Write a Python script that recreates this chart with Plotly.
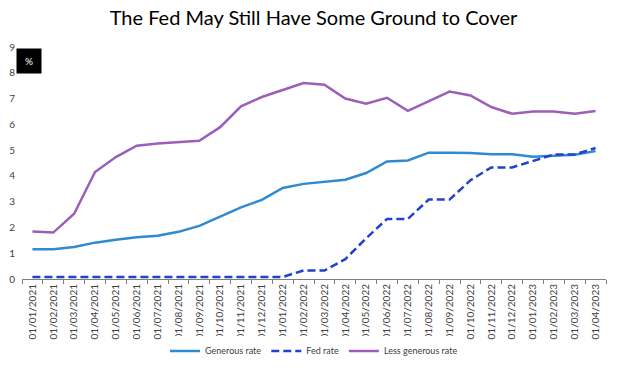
import plotly.graph_objects as go

dates = ["01/01/2021","01/02/2021","01/03/2021","01/04/2021","01/05/2021","01/06/2021",
         "01/07/2021","01/08/2021","01/09/2021","01/10/2021","01/11/2021","01/12/2021",
         "01/01/2022","01/02/2022","01/03/2022","01/04/2022","01/05/2022","01/06/2022",
         "01/07/2022","01/08/2022","01/09/2022","01/10/2022","01/11/2022","01/12/2022",
         "01/01/2023","01/02/2023","01/03/2023","01/04/2023"]

generous = [1.15,1.15,1.24,1.41,1.52,1.62,1.68,1.83,2.06,2.43,2.78,3.07,3.53,3.69,3.77,3.85,
            4.11,4.56,4.6,4.9,4.9,4.89,4.84,4.84,4.74,4.77,4.82,4.96]
fed = [0.08,0.08,0.08,0.08,0.08,0.08,0.08,0.08,0.08,0.08,0.08,0.08,0.08,0.33,0.33,0.77,
       1.58,2.33,2.33,3.08,3.08,3.83,4.33,4.33,4.57,4.83,4.83,5.08]
less_generous = [1.84,1.8,2.53,4.15,4.73,5.17,5.26,5.3,5.36,5.89,6.7,7.06,7.32,7.6,7.54,7.0,
                 6.8,7.03,6.52,6.89,7.27,7.12,6.67,6.41,6.5,6.5,6.41,6.52]

FONT = "Lato"
fig = go.Figure()
fig.add_trace(go.Scatter(x=dates, y=generous, mode="lines", name="Generous rate",
                         line=dict(color="#2F8AD0", width=2.5)))
fig.add_trace(go.Scatter(x=dates, y=fed, mode="lines", name="Fed rate",
                         line=dict(color="#2142CC", width=2.5, dash="8px,4px")))
fig.add_trace(go.Scatter(x=dates, y=less_generous, mode="lines", name="Less generous rate",
                         line=dict(color="#9B5FB8", width=2.5)))

fig.update_layout(
    width=627, height=375,
    margin=dict(l=22, r=21, t=47, b=96, autoexpand=False),
    paper_bgcolor="white", plot_bgcolor="white",
    font=dict(family=FONT, color="#404040"),
    title=dict(text="The Fed May Still Have Some Ground to Cover", x=0.5, xanchor="center",
               y=0.952, yanchor="middle", font=dict(family=FONT, size=20, color="black")),
    showlegend=True,
    legend=dict(orientation="h", x=0.5, xanchor="center", y=-0.31, yanchor="middle",
                font=dict(size=9, color="#404040"), itemwidth=30, tracegroupgap=0),
    xaxis=dict(type="category", range=[-0.5, 27.5], tickangle=-90, tickson="boundaries",
               ticks="outside", ticklen=4, tickcolor="#7f7f7f", showline=True,
               linecolor="#7f7f7f", linewidth=1, showgrid=False, zeroline=False,
               automargin=False, tickfont=dict(size=10, color="#404040")),
    yaxis=dict(range=[0, 9], dtick=1, showgrid=False, zeroline=False, showline=False,
               automargin=False, ticks="", tickfont=dict(size=10, color="#404040"),
               ticklabelstandoff=6),
    annotations=[dict(text="%", xref="paper", yref="paper", x=0.012, y=0.94,
                      xanchor="center", yanchor="middle", showarrow=False,
                      bgcolor="black", font=dict(color="white", size=10, family=FONT),
                      width=22, height=22)],
)

fig.write_html("out.html", config={"displayModeBar": False},
               post_script="document.body.style.margin='0';")
